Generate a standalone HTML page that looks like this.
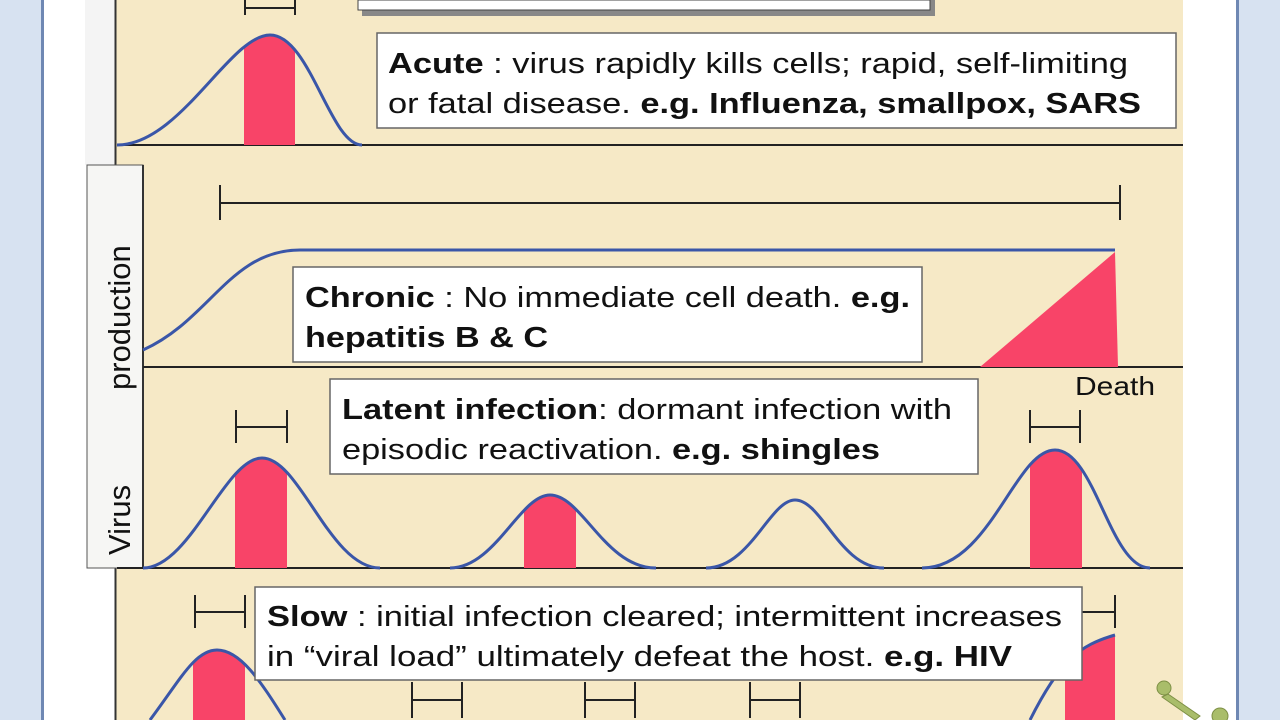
<!DOCTYPE html>
<html><head><meta charset="utf-8"><style>
html,body{margin:0;padding:0;width:1280px;height:720px;overflow:hidden;background:#fff}
svg{display:block}
text{font-family:"Liberation Sans",Arial,sans-serif;fill:#111}
</style></head><body>
<svg width="1280" height="720" viewBox="0 0 1280 720">
<defs>
<clipPath id="c1"><path d="M117,145 C180,145 230,35 270,35 C310,35 330,145 362,145 Z"/></clipPath>
<clipPath id="c2"><path d="M143,568 C190,568 225,458 262,458 C300,458 330,568 380,568 Z"/></clipPath>
<clipPath id="c3"><path d="M450,568 C495,568 520,495 550,495 C582,495 605,568 656,568 Z"/></clipPath>
<clipPath id="c4"><path d="M922,568 C990,568 1015,450 1055,450 C1095,450 1110,568 1150,568 Z"/></clipPath>
<clipPath id="c5"><path d="M150,720 C180,680 195,650 217,650 C240,650 260,680 285,720 Z"/></clipPath>
<clipPath id="c6"><path d="M1030,720 C1060,660 1080,645 1115,635 L1115,720 Z"/></clipPath>
</defs>
<rect x="0" y="0" width="42" height="720" fill="#d7e2f1"/>
<rect x="41" y="0" width="3" height="720" fill="#6f88b3"/>
<rect x="1236" y="0" width="3" height="720" fill="#6f88b3"/>
<rect x="1239" y="0" width="41" height="720" fill="#d7e2f1"/>
<rect x="85" y="0" width="30" height="165" fill="#f4f4f4"/>
<rect x="115" y="0" width="1068" height="720" fill="#f6e9c6"/>
<line x1="115.5" y1="0" x2="115.5" y2="166" stroke="#333" stroke-width="2"/>
<line x1="115.5" y1="568" x2="115.5" y2="720" stroke="#333" stroke-width="2"/>
<rect x="87" y="165" width="56" height="403" fill="#f6f6f4" stroke="#555" stroke-width="1"/>
<line x1="143" y1="165" x2="143" y2="568" stroke="#333" stroke-width="2"/>
<text transform="translate(130,555) rotate(-90)" font-size="31" fill="#222">Virus</text>
<text transform="translate(130,390) rotate(-90)" font-size="31" fill="#222">production</text>
<line x1="117" y1="145" x2="1183" y2="145" stroke="#222" stroke-width="2"/>
<line x1="143" y1="367" x2="1183" y2="367" stroke="#222" stroke-width="2"/>
<line x1="117" y1="568" x2="1183" y2="568" stroke="#222" stroke-width="2"/>
<rect x="362" y="0" width="573" height="16" fill="#888"/>
<rect x="358" y="0" width="572" height="10" fill="#fff" stroke="#444"/>
<g stroke="#222" stroke-width="2" fill="none">
<path d="M245,0V15M295,0V15M245,8H295"/>
<path d="M220,185V220M1120,185V220M220,203H1120"/>
<path d="M236,410V443M287,410V443M236,427H287"/>
<path d="M1030,410V443M1080,410V443M1030,427H1080"/>
<path d="M195,595V628M245,595V628M195,612H245"/>
<path d="M1065,595V628M1115,595V628M1065,612H1115"/>
<path d="M412,682V718M462,682V718M412,700H462"/>
<path d="M585,682V718M635,682V718M585,700H635"/>
<path d="M750,682V718M800,682V718M750,700H800"/>
</g>
<g fill="#f84468">
<rect x="244" y="0" width="51" height="145" clip-path="url(#c1)"/>
<rect x="235" y="400" width="52" height="168" clip-path="url(#c2)"/>
<rect x="524" y="480" width="52" height="88" clip-path="url(#c3)"/>
<rect x="1030" y="430" width="52" height="138" clip-path="url(#c4)"/>
<rect x="193" y="640" width="52" height="80" clip-path="url(#c5)"/>
<rect x="1065" y="620" width="50" height="100" clip-path="url(#c6)"/>
<path d="M980,367 L1115,252 L1118,367 Z"/>
</g>
<g fill="none" stroke="#3a56a8" stroke-width="3">
<path d="M117,145 C180,145 230,35 270,35 C310,35 330,145 362,145"/>
<path d="M143,350 C210,320 230,250 300,250 L1115,250"/>
<path d="M143,568 C190,568 225,458 262,458 C300,458 330,568 380,568"/>
<path d="M450,568 C495,568 520,495 550,495 C582,495 605,568 656,568"/>
<path d="M706,568 C750,568 770,500 795,500 C822,500 840,568 884,568"/>
<path d="M922,568 C990,568 1015,450 1055,450 C1095,450 1110,568 1150,568"/>
<path d="M150,720 C180,680 195,650 217,650 C240,650 260,680 285,720"/>
<path d="M1030,720 C1060,660 1080,645 1115,635"/>
</g>
<g fill="#fff" stroke="#666" stroke-width="1.5">
<rect x="377" y="33" width="799" height="95"/>
<rect x="293" y="267" width="629" height="95"/>
<rect x="330" y="379" width="648" height="95"/>
<rect x="255" y="587" width="827" height="93"/>
</g>
<g font-size="29">
<text x="388" y="73" textLength="740" lengthAdjust="spacingAndGlyphs"><tspan font-weight="bold">Acute</tspan> : virus rapidly kills cells; rapid, self-limiting</text>
<text x="388" y="113" textLength="753" lengthAdjust="spacingAndGlyphs">or fatal disease. <tspan font-weight="bold">e.g. Influenza, smallpox, SARS</tspan></text>
<text x="305" y="307" textLength="605" lengthAdjust="spacingAndGlyphs"><tspan font-weight="bold">Chronic</tspan> : No immediate cell death. <tspan font-weight="bold">e.g.</tspan></text>
<text x="305" y="347" font-weight="bold" textLength="243" lengthAdjust="spacingAndGlyphs">hepatitis B &amp; C</text>
<text x="342" y="419" textLength="610" lengthAdjust="spacingAndGlyphs"><tspan font-weight="bold">Latent infection</tspan>: dormant infection with</text>
<text x="342" y="459" textLength="538" lengthAdjust="spacingAndGlyphs">episodic reactivation. <tspan font-weight="bold">e.g. shingles</tspan></text>
<text x="267" y="626" textLength="795" lengthAdjust="spacingAndGlyphs"><tspan font-weight="bold">Slow</tspan> : initial infection cleared; intermittent increases</text>
<text x="267" y="666" textLength="745" lengthAdjust="spacingAndGlyphs">in “viral load” ultimately defeat the host. <tspan font-weight="bold">e.g. HIV</tspan></text>
</g>
<text x="1075" y="395" font-size="26" fill="#222" textLength="80" lengthAdjust="spacingAndGlyphs">Death</text>
<g fill="#a9bd6a" stroke="#7d8f45" stroke-width="1">
<circle cx="1164" cy="688" r="7"/>
<path d="M1168,694 L1200,716 L1195,720 L1162,697 Z"/>
<circle cx="1220" cy="716" r="8"/>
</g>
</svg>
</body></html>
